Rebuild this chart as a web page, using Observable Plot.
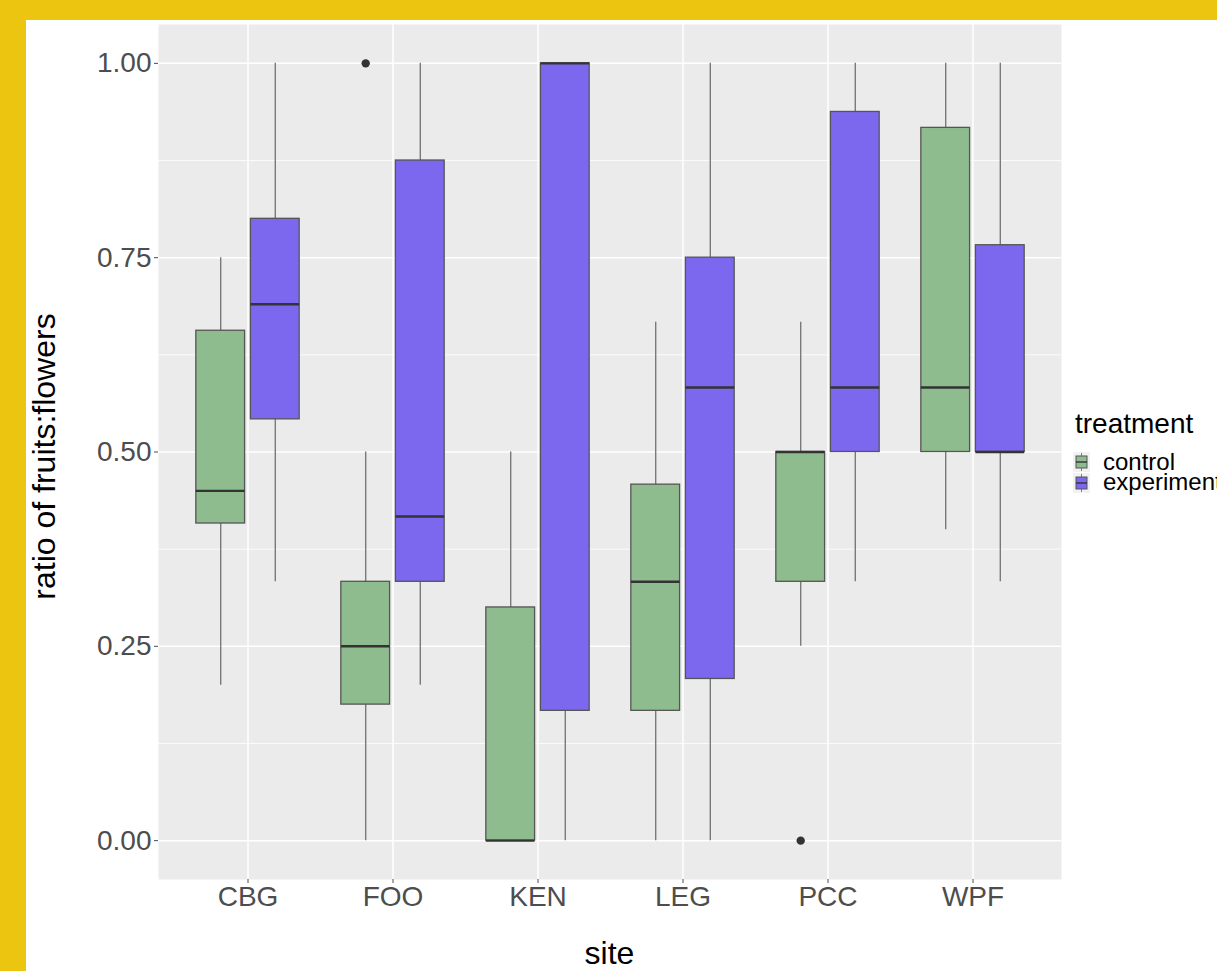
<!DOCTYPE html>
<html><head><meta charset="utf-8">
<script src="https://cdn.jsdelivr.net/npm/d3@7"></script>
<script src="https://cdn.jsdelivr.net/npm/@observablehq/plot@0.6"></script>
<style>
html,body{margin:0;padding:0;overflow:hidden;background:#ECC510;width:1217px;height:971px;}
#card{position:absolute;left:26px;top:20px;width:1191px;height:951px;background:#fff;overflow:hidden}
#card svg{overflow:visible;font-family:"Liberation Sans",Arial,Helvetica,sans-serif}
</style></head><body><div id="card"></div>
<script>
// ---- data ----
const sites = ["CBG", "FOO", "KEN", "LEG", "PCC", "WPF"];
const treatments = ["control", "experimental"];
const treatmentColors = ["#8FBC8F", "#7B68EE"];
// per site, control
const controlLower  = [0.20, 0.00, 0.00, 0.00, 0.25, 0.40];
const controlQ1     = [0.408, 0.175, 0.00, 0.167, 0.333, 0.50];
const controlMedian = [0.45, 0.25, 0.00, 0.333, 0.50, 0.583];
const controlQ3     = [0.656, 0.333, 0.30, 0.458, 0.50, 0.917];
const controlUpper  = [0.75, 0.50, 0.50, 0.667, 0.667, 1.00];
// per site, experimental
const expLower  = [0.333, 0.20, 0.00, 0.00, 0.333, 0.333];
const expQ1     = [0.542, 0.333, 0.167, 0.208, 0.50, 0.50];
const expMedian = [0.69, 0.417, 1.00, 0.583, 0.583, 0.50];
const expQ3     = [0.80, 0.875, 1.00, 0.75, 0.9375, 0.766];
const expUpper  = [1.00, 1.00, 1.00, 1.00, 1.00, 1.00];
// outliers
const outlierSites = ["FOO", "PCC"];
const outlierTreatments = ["control", "control"];
const outlierValues = [1.00, 0.00];
// axis ticks
const yMajor = [0, 0.25, 0.5, 0.75, 1];
const yMinor = [0.125, 0.375, 0.625, 0.875];

const stats = {
  control: [controlLower, controlQ1, controlMedian, controlQ3, controlUpper],
  experimental: [expLower, expQ1, expMedian, expQ3, expUpper]
};
const rows = treatments.flatMap(t => sites.map((s, i) => ({
  site: s, treatment: t,
  lower: stats[t][0][i], q1: stats[t][1][i], median: stats[t][2][i], q3: stats[t][3][i], upper: stats[t][4][i]
})));
const outliers = outlierValues.map((v, i) => ({site: outlierSites[i], treatment: outlierTreatments[i], value: v}));

// ---- layout ----
const W = 1191, H = 951;
const mL = 132, mR = 156, mT = 4, mB = 92;
const step = (W - mL - mR) / (sites.length + 0.2);
const offset = 27.3, boxHalf = 24.7;
const nearInset = step / 2 + offset - boxHalf; // inset on the side toward the other box
const farInset = step / 2 - offset - boxHalf;  // inset on the outer side

const marks = [
  Plot.frame({fill: "#EBEBEB", stroke: null}),
  Plot.ruleY(yMinor, {stroke: "white", strokeWidth: 0.8}),
  Plot.ruleY(yMajor, {stroke: "white", strokeWidth: 1.5}),
  Plot.ruleX(sites, {x: d => d, stroke: "white", strokeWidth: 1.5})
];
treatments.forEach((t, j) => {
  const data = rows.filter(d => d.treatment === t);
  const dx = j === 0 ? -offset : offset;
  const insetLeft = j === 0 ? farInset : nearInset;
  const insetRight = j === 0 ? nearInset : farInset;
  marks.push(
    Plot.ruleX(data, {x: "site", y1: "lower", y2: "upper", dx, stroke: "#7a7a7a", strokeWidth: 1.4}),
    Plot.barY(data, {x: "site", y1: "q1", y2: "q3", fill: treatmentColors[j], stroke: "#555", strokeWidth: 1.3, insetLeft, insetRight}),
    Plot.tickY(data, {x: "site", y: "median", stroke: "#333", strokeWidth: 2.4, insetLeft, insetRight}),
    Plot.dot(outliers.filter(d => d.treatment === t), {x: "site", y: "value", dx, r: 4.2, fill: "#333", stroke: null})
  );
});
marks.push(
  Plot.axisY({ticks: yMajor, tickFormat: d3.format(".2f"), tickSize: 4, tickPadding: 3, fontSize: 28, color: "#4D4D4D", label: null}),
  Plot.axisX({tickSize: 4, tickPadding: 3, fontSize: 28, color: "#4D4D4D", label: null})
);

const chart = Plot.plot({
  width: W, height: H,
  marginLeft: mL, marginRight: mR, marginTop: mT, marginBottom: mB,
  style: {fontFamily: '"Liberation Sans", Arial, Helvetica, sans-serif', background: "white", overflow: "visible"},
  x: {type: "band", domain: sites, paddingInner: 0, paddingOuter: 0.1, align: 0.5},
  y: {domain: [-0.05, 1.05]},
  marks
});
document.getElementById("card").appendChild(chart);

// ---- titles and legend ----
const svg = d3.select(chart);
svg.append("text")
  .attr("transform", `translate(29,${(mT + H - mB) / 2 + 5}) rotate(-90)`)
  .attr("text-anchor", "middle").attr("fill", "#000").style("font-size", "32px")
  .text("ratio of fruits:flowers");
svg.append("text")
  .attr("x", (mL + W - mR) / 2).attr("y", 944)
  .attr("text-anchor", "middle").attr("fill", "#000").style("font-size", "32px")
  .text("site");

const lg = svg.append("g").attr("text-anchor", "start");
lg.append("text").attr("x", 1049).attr("y", 413).attr("text-anchor", "start").attr("fill", "#000").style("font-size", "28px").text("treatment");
const keyCenters = [442, 463];
const labelBaselines = [450, 470];
treatments.forEach((t, j) => {
  const cy = keyCenters[j];
  const g = lg.append("g");
  g.append("rect").attr("x", 1047).attr("y", cy - 10).attr("width", 17).attr("height", 20).attr("fill", "#F2F2F2");
  g.append("line").attr("x1", 1055.5).attr("x2", 1055.5).attr("y1", cy - 9).attr("y2", cy + 9).attr("stroke", "#808080").attr("stroke-width", 1);
  g.append("rect").attr("x", 1050).attr("y", cy - 6).attr("width", 11).attr("height", 12)
    .attr("fill", treatmentColors[j]).attr("stroke", "#555").attr("stroke-width", 1);
  g.append("line").attr("x1", 1050).attr("x2", 1061).attr("y1", cy).attr("y2", cy).attr("stroke", "#333").attr("stroke-width", 1.4);
  g.append("text").attr("x", 1077).attr("y", labelBaselines[j]).attr("text-anchor", "start").attr("fill", "#000").style("font-size", "24px").text(t);
});
</script>
</body></html>
